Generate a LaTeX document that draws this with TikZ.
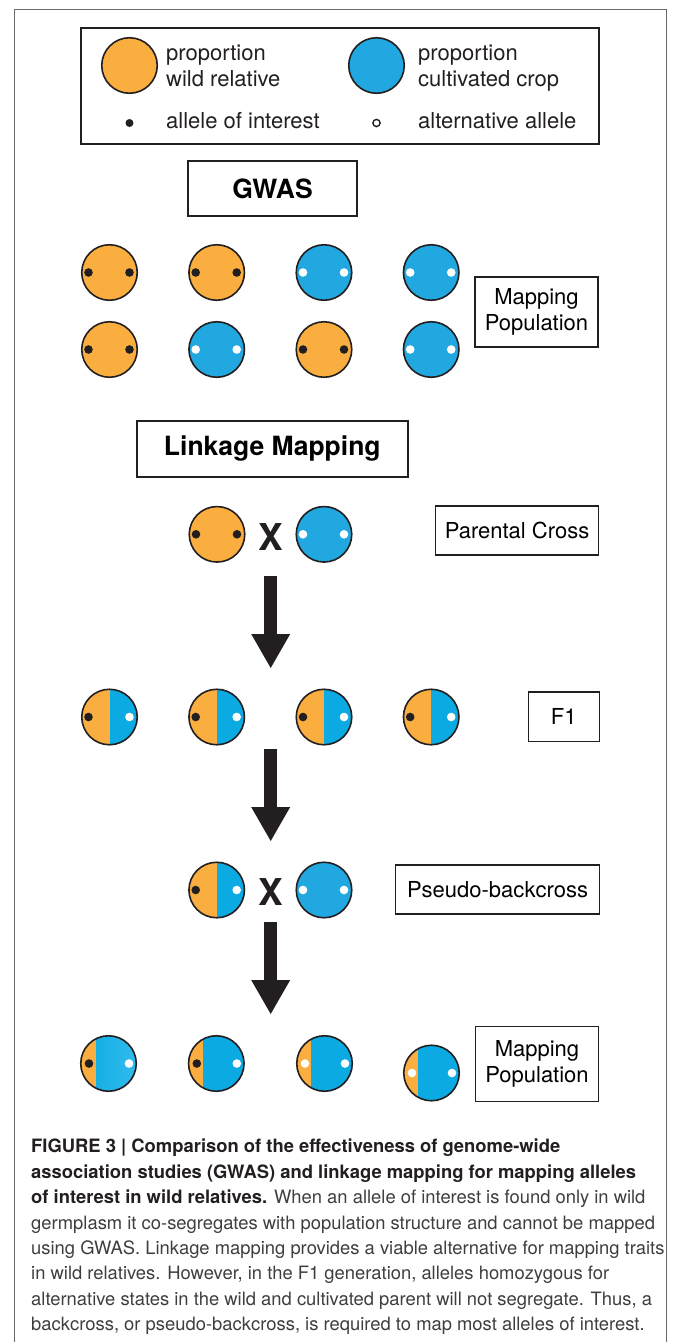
\documentclass[tikz,border=0pt]{standalone}
\usepackage{fontspec}
\setmainfont{TeX Gyre Heros}
\usepackage{tikz}
\usetikzlibrary{arrows.meta,positioning}
\definecolor{wild}{RGB}{250,174,64}
\definecolor{crop}{RGB}{34,168,224}
\definecolor{hybrid}{RGB}{12,170,226}
\definecolor{hybridlight}{RGB}{48,188,236}
\definecolor{framegray}{RGB}{105,105,105}
\definecolor{ink}{RGB}{35,31,32}
\definecolor{captext}{RGB}{62,62,62}

\begin{document}
\begin{tikzpicture}[x=1pt,y=-1pt,
  pop/.style = {circle, draw=ink, line width=1.6pt, minimum size=55.5pt, inner sep=0pt},
  wild pop/.style = {pop, fill=wild},
  crop pop/.style = {pop, fill=crop},
  half pop/.style = {pop, fill=hybrid, path picture={\fill[wild] (path picture bounding box.north west) rectangle ([xshift=#1]path picture bounding box.south);}},
  label box/.style = {draw=ink, line width=1.5pt, align=center, inner sep=0pt, font=\fontsize{22}{26}\selectfont},
  head box/.style = {label box, line width=1.6pt, font=\fontsize{26.5}{30}\selectfont\bfseries},
  cross/.style = {inner sep=0pt, text=ink, font=\fontsize{37}{40}\selectfont\bfseries},
  legend text/.style = {anchor=west, align=left, inner sep=0pt, text=ink, font=\fontsize{22}{26}\selectfont},
  fat arrow/.style = {ink, line width=13.3pt, -{Triangle[width=39pt,length=34pt,line width=0pt]}}]
\useasboundingbox (0,0) rectangle (673,1342);

% frame and legend
\draw[framegray, line width=1pt] (14,1342) -- (14,9) -- (666,9) -- (666,1342);
\node[draw=ink, line width=2pt, minimum width=518pt, minimum height=116pt, inner sep=0pt] (legend) at (340,86) {};
\node[wild pop] (leg;w) at (129.5,65.5) {};
\node[crop pop] (leg;c) at (376.5,65.5) {};
\node[legend text] (leg;wt) at (166,69.4) {proportion\\wild relative\strut};
\node[legend text] (leg;ct) at (418,69.4) {proportion\\cultivated crop\strut};
\node[legend text] (leg;at) at (166,121) {allele of interest};
\node[legend text] (leg;bt) at (418,121) {alternative allele};
\fill[ink] (129.5,123) circle (4pt);
\draw[ink, fill=white, line width=1.4pt] (376.5,123) circle (3.6pt);

% GWAS
\node[head box, minimum width=169pt, minimum height=55pt] (gwas) at (272.5,188.5) {GWAS};
\foreach \x/\c [count=\i] in {109.5/wild pop,216.7/wild pop,324/crop pop,431.2/crop pop}
  { \node[\c] (g1;\i) at (\x,272.5) {}; }
\foreach \x/\c [count=\i] in {109.5/wild pop,216.7/crop pop,324/wild pop,431.2/crop pop}
  { \node[\c] (g2;\i) at (\x,349.5) {}; }
\foreach \i/\d in {1/ink,2/ink,3/white,4/white}
  { \fill[\d] (g1;\i.center) ++(-21,0) circle (4.3pt) ++(41,0) circle (4.3pt); }
\foreach \i/\d in {1/ink,2/white,3/ink,4/white}
  { \fill[\d] (g2;\i.center) ++(-21,0) circle (4.3pt) ++(41,0) circle (4.3pt); }
\node[label box, minimum width=123pt, minimum height=70pt] (gmap) at (536.5,312) {Mapping\\Population};

% linkage mapping
\node[head box, minimum width=271pt, minimum height=56.5pt] (link) at (272.3,449) {Linkage Mapping};
\node[wild pop] (p;1) at (217,534.3) {};
\node[cross] (x1) at (270.5,537) {X};
\node[crop pop] (p;2) at (324,534.3) {};
\fill[ink] (p;1.center) ++(-21,0) circle (4.3pt) ++(41,0) circle (4.3pt);
\fill[white] (p;2.center) ++(-21,0) circle (4.3pt) ++(41,0) circle (4.3pt);
\node[label box, minimum width=163pt, minimum height=49pt] (pbox) at (517,530.6) {Parental Cross};

\coordinate (a1s) at (270.7,576);
\coordinate (a1e) at (270.7,668);
\draw[fat arrow] (a1s) -- (a1e);

% F1
\foreach \x [count=\i] in {109.5,216.7,324,431.2}
  { \node[half pop=0pt] (f;\i) at (\x,717) {};
    \fill[ink] (f;\i.center) ++(-21,0) circle (4.3pt);
    \fill[white] (f;\i.center) ++(20,0) circle (4.3pt); }
\node[label box, minimum width=71pt, minimum height=49.7pt] (fbox) at (563.8,716.8) {F1};

\coordinate (a2s) at (270.7,749);
\coordinate (a2e) at (270.7,841);
\draw[fat arrow] (a2s) -- (a2e);

% pseudo-backcross
\node[half pop=0pt] (b;1) at (216.7,890) {};
\node[cross] (x2) at (270.5,892) {X};
\node[crop pop] (b;2) at (324,890) {};
\fill[ink] (b;1.center) ++(-21,0) circle (4.3pt);
\fill[white] (b;1.center) ++(20,0) circle (4.3pt);
\fill[white] (b;2.center) ++(-21,0) circle (4.3pt) ++(41,0) circle (4.3pt);
\node[label box, minimum width=203.6pt, minimum height=49pt] (bbox) at (497.5,889.5) {Pseudo-backcross};

\coordinate (a3s) at (270.7,922);
\coordinate (a3e) at (270.7,1014);
\draw[fat arrow] (a3s) -- (a3e);

% mapping population
\node[half pop=-12.5pt, left color=hybrid, right color=hybridlight] (m;1) at (108.5,1063.5) {};
\node[half pop=-13.4pt] (m;2) at (216.3,1063.5) {};
\node[half pop=-13.5pt] (m;3) at (324.5,1063.5) {};
\node[half pop=-13.3pt] (m;4) at (431.5,1073) {};
\foreach \i/\d in {1/ink,2/ink,3/white,4/white}
  { \fill[\d] (m;\i.center) ++(-19.5,0) circle (4.3pt);
    \fill[white] (m;\i.center) ++(20.5,0) circle (4.3pt); }
\node[label box, minimum width=123pt, minimum height=75pt] (mmap) at (537,1064) {Mapping\\Population};

% caption
\node[anchor=north west, align=left, inner sep=0pt, text=captext, font=\fontsize{18.4}{25.4}\selectfont] (cap) at (31,1139)
 {\textcolor{ink}{\bfseries FIGURE 3 | Comparison of the effectiveness of genome-wide}\\
  \textcolor{ink}{\bfseries association studies (GWAS) and linkage mapping for mapping alleles}\\
  \textcolor{ink}{\bfseries of interest in wild relatives.} When an allele of interest is found only in wild\\
  germplasm it co-segregates with population structure and cannot be mapped\\
  using GWAS. Linkage mapping provides a viable alternative for mapping traits\\
  in wild relatives. However, in the F1 generation, alleles homozygous for\\
  alternative states in the wild and cultivated parent will not segregate. Thus, a\\
  backcross, or pseudo-backcross, is required to map most alleles of interest.};

\end{tikzpicture}
\end{document}
